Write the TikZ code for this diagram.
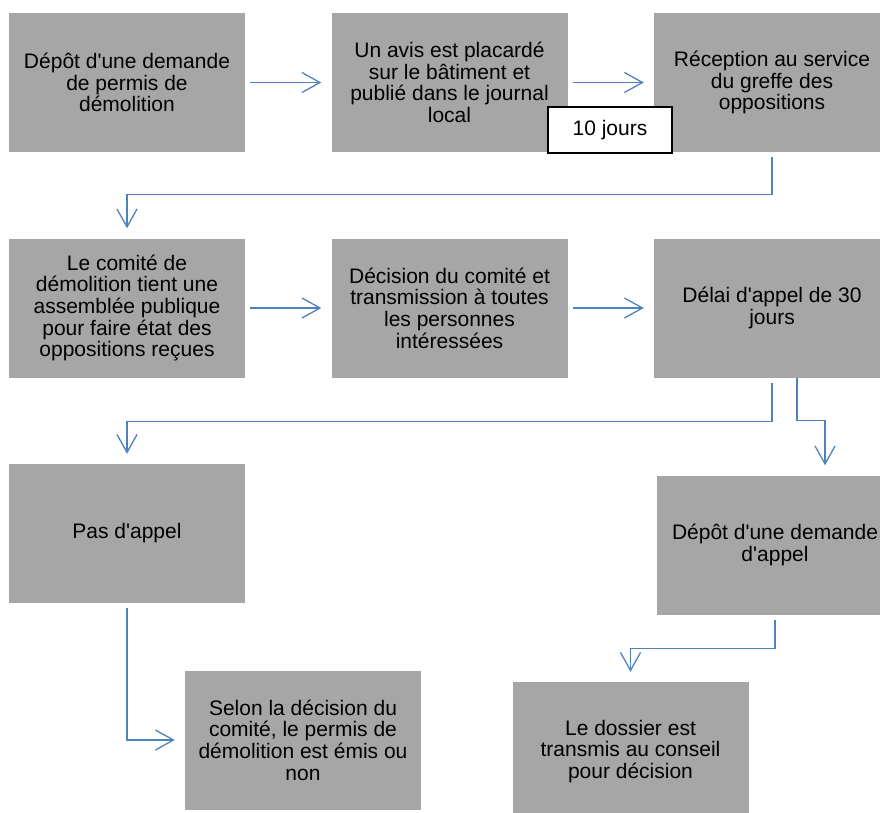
\documentclass[tikz,border=0pt]{standalone}
\usepackage{fontspec}
\setmainfont{Liberation Sans}[Ligatures=TeXOff]
\usetikzlibrary{arrows.meta}
\definecolor{boxgray}{HTML}{A6A6A6}
\definecolor{flowblue}{HTML}{4F81BD}

\begin{document}
\begin{tikzpicture}[x=1pt,y=-1pt]
	\tikzstyle{etape} = [fill=boxgray, minimum width=236pt, minimum height=139pt, inner sep=0pt, align=center, font=\fontsize{21}{21.7}\selectfont]
	\tikzstyle{delai} = [draw=black, fill=white, line width=1.3pt, minimum width=124pt, minimum height=46pt, inner sep=0pt, font=\fontsize{21}{21.7}\selectfont]
	\tikzstyle{fleche} = [draw=flowblue, line width=1.3pt, -{Straight Barb[length=18pt,width=20pt]}, shorten <=5pt, shorten >=10pt]
	\useasboundingbox (0,0) rectangle (880,812);
		\node[etape] (dem) at (127,82.5) {Dépôt d'une demande\\de permis de\\démolition};
		\node[etape] (avis) at (449.5,82.5) {Un avis est placardé\\sur le bâtiment et\\publié dans le journal\\local};
		\node[etape] (recep) at (772,82.5) {Réception au service\\du greffe des\\oppositions};
		\node[etape] (assem) at (127,308) {Le comité de\\démolition tient une\\assemblée publique\\pour faire état des\\oppositions reçues};
		\node[etape] (decis) at (449.5,308) {Décision du comité et\\transmission à toutes\\les personnes\\intéressées};
		\node[etape] (delai) at (772,308) {Délai d'appel de 30\\jours};
		\node[etape] (pas) at (127,533.5) {Pas d'appel};
		\node[etape] (appel) at (775,545) {Dépôt d'une demande\\d'appel};
		\node[etape] (selon) at (303,740) {Selon la décision du\\comité, le permis de\\démolition est émis ou\\non};
		\node[etape] (conseil) at (630.5,751.5) {Le dossier est\\transmis au conseil\\pour décision};

		\draw[fleche] (dem) -- (avis);
		\draw[fleche] (avis) -- (recep);
		\draw[fleche] (recep.south) -- ++(0,42.5) -| (assem.north);
		\draw[fleche] (assem) -- (decis);
		\draw[fleche] (decis) -- (delai);
		\draw[fleche] (delai.south) -- ++(0,44) -| (pas.north);
		\draw[fleche, shorten <=0pt] ([xshift=25pt]delai.south) -- ++(0,43) -| ([xshift=50pt]appel.north);
		\draw[fleche] (pas.south) |- (selon.west);
		\draw[fleche] (appel.south) -- ++(0,34) -| (conseil.north);

		\node[delai] (jours) at (610,130) {10 jours};
	\end{tikzpicture}
\end{document}
